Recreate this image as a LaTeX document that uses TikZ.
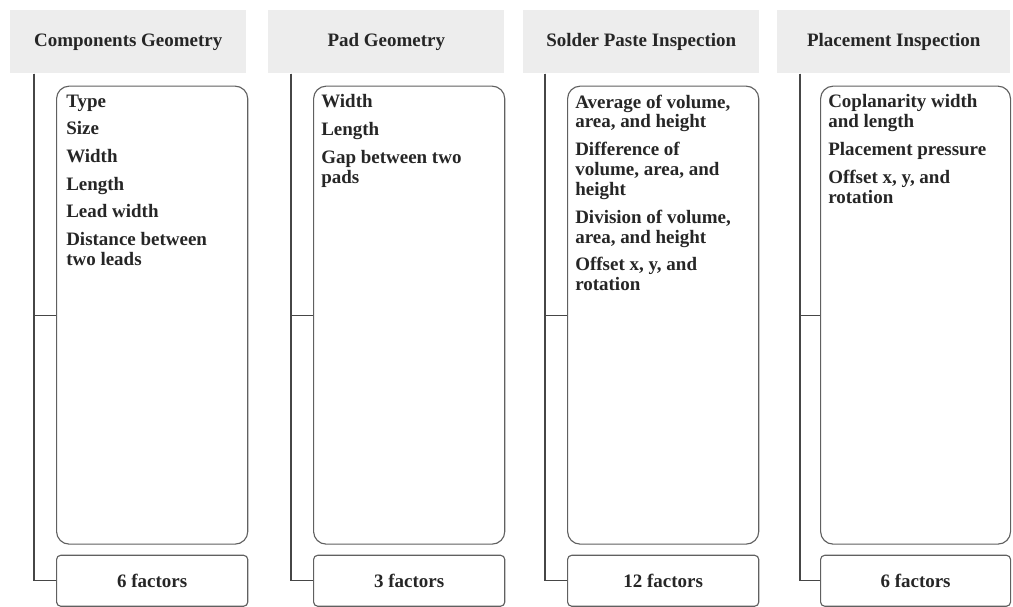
\documentclass[tikz,border=0pt]{standalone}
\usepackage{fontspec}
\setmainfont{Liberation Serif}
\usetikzlibrary{positioning}

\tikzset{
  txt/.style={font=\bfseries\fontsize{13.5}{14.2}\selectfont, text=black!85},
  head/.style={txt, fill=gray!14, minimum width=5.9cm, minimum height=1.575cm, anchor=north west, inner sep=0pt},
  listbox/.style={draw=gray!75!black, line width=0.8pt, rounded corners=9pt, fill=white, minimum width=4.78cm, minimum height=11.45cm, inner sep=0pt},
  listtext/.style={txt, align=left, inner sep=0pt},
  factbox/.style={txt, draw=gray!75!black, line width=0.8pt, rounded corners=3pt, fill=white, minimum width=4.78cm, minimum height=1.275cm, inner sep=0pt},
  tree/.style={draw=gray!55!black, line width=0.9pt}
}

\begin{document}
\begin{tikzpicture}
  \useasboundingbox (0,0) rectangle (25.325,-15.15);

  % headers
  \node[head] (hdA) at (0.25,-0.25) {Components Geometry};
  \node[head] (hdB) at (6.7,-0.25) {Pad Geometry};
  \node[head] (hdC) at (13.075,-0.25) {Solder Paste Inspection};
  \node[head, minimum width=5.825cm] (hdD) at (19.425,-0.25) {Placement Inspection};

  % factor lists
  \node[listbox, below right=0.3cm and 1.15cm of hdA.south west] (listA) {};
  \node[listbox, below right=0.3cm and 1.125cm of hdB.south west] (listB) {};
  \node[listbox, below right=0.3cm and 1.1cm of hdC.south west] (listC) {};
  \node[listbox, minimum width=4.75cm, below right=0.3cm and 1.075cm of hdD.south west] (listD) {};

  \node[listtext, below right=0.22cm and 0.25cm of listA.north west] (itemsA)
    {Type\\[5.5pt]Size\\[5.5pt]Width\\[5.5pt]Length\\[5.5pt]Lead width\\[5.5pt]Distance between\\two leads};
  \node[listtext, below right=0.22cm and 0.2cm of listB.north west] (itemsB)
    {Width\\[5.5pt]Length\\[5.5pt]Gap between two\\pads};
  \node[listtext, below right=0.22cm and 0.2cm of listC.north west] (itemsC)
    {Average of volume,\\area, and height\\[5.5pt]Difference of\\volume, area, and\\height\\[5.5pt]Division of volume,\\area, and height\\[5.5pt]Offset x, y, and\\rotation};
  \node[listtext, below right=0.22cm and 0.2cm of listD.north west] (itemsD)
    {Coplanarity width\\and length\\[5.5pt]Placement pressure\\[5.5pt]Offset x, y, and\\rotation};

  % totals
  \node[factbox, below=0.25cm of listA] (factA) {6 factors};
  \node[factbox, below=0.25cm of listB] (factB) {3 factors};
  \node[factbox, below=0.25cm of listC] (factC) {12 factors};
  \node[factbox, minimum width=4.75cm, below=0.25cm of listD] (factD) {6 factors};

  % tree lines
  \coordinate (tA) at ([xshift=0.6cm]hdA.south west);
  \coordinate (tB) at ([xshift=0.575cm]hdB.south west);
  \coordinate (tC) at ([xshift=0.55cm]hdC.south west);
  \coordinate (tD) at ([xshift=0.575cm]hdD.south west);
  \foreach \c in {A,B,C,D}{
    \draw[tree] (t\c) |- (list\c.west);
    \draw[tree] (t\c) |- (fact\c.west);
  }
\end{tikzpicture}
\end{document}
